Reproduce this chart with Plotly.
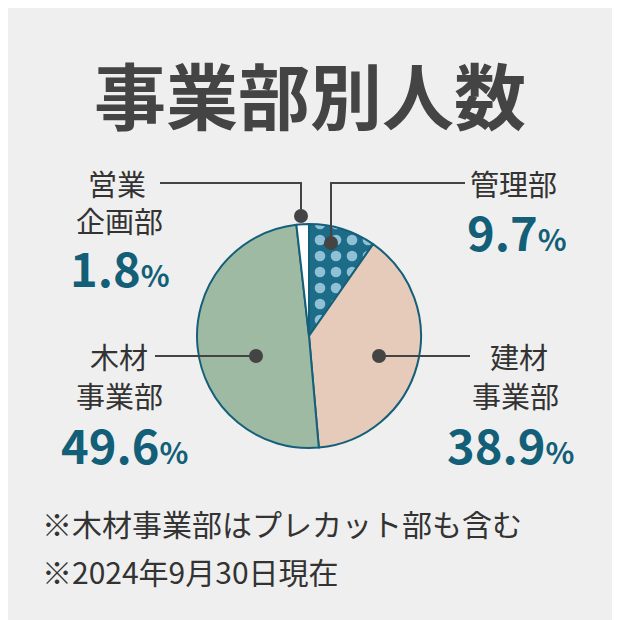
import plotly.graph_objects as go

labels = ["管理部", "建材事業部", "木材事業部", "営業企画部"]
values = [9.7, 38.9, 49.6, 1.8]
colors = ["#1c6c88", "#e6cbbb", "#9fbaa2", "#ffffff"]

W = 620
OFF = 8  # page body margin
def px(x): return (x - OFF) / W
def py(y): return 1 - (y - OFF) / W

fig = go.Figure(go.Pie(
    labels=labels, values=values, sort=False, direction="clockwise", rotation=0,
    textinfo="none", hoverinfo="label+percent",
    marker=dict(colors=colors, line=dict(color="#14607a", width=2),
                pattern=dict(shape=[".", "", "", ""], fgcolor="#8fc0d6",
                             bgcolor="#1c6c88", size=16, solidity=0.35)),
    domain=dict(x=[px(197), px(421)], y=[py(448), py(224)]),
    showlegend=False,
))

# leader lines
line = dict(color="#444", width=2)
shapes = [
    dict(type="path", path=f"M {px(160)} {py(183)} L {px(301)} {py(183)} L {px(301)} {py(216)}"),
    dict(type="path", path=f"M {px(465)} {py(183)} L {px(331)} {py(183)} L {px(331)} {py(243)}"),
    dict(type="path", path=f"M {px(155)} {py(356)} L {px(256)} {py(356)}"),
    dict(type="path", path=f"M {px(470)} {py(356)} L {px(379)} {py(356)}"),
]
for s in shapes:
    s.update(xref="paper", yref="paper", line=line)
for cx, cy in [(301, 216), (331, 243), (256, 356), (379, 356)]:
    shapes.append(dict(type="circle", xref="paper", yref="paper",
                       x0=px(cx - 7), x1=px(cx + 7), y0=py(cy + 7), y1=py(cy - 7),
                       fillcolor="#444", line=dict(width=0)))
fig.update_layout(shapes=shapes)

font = "Noto Sans CJK JP"
def lab(x, y, text, anchor):
    fig.add_annotation(x=px(x), y=py(y), xref="paper", yref="paper", text=text,
                       showarrow=False, xanchor=anchor, yanchor="middle",
                       font=dict(family=font, size=29, color="#333"), align=anchor)
def num(x, y, v, anchor):
    fig.add_annotation(x=px(x), y=py(y), xref="paper", yref="paper",
                       text=f"<b>{v}</b><span style='font-size:30px'><b>%</b></span>",
                       showarrow=False, xanchor=anchor, yanchor="middle",
                       font=dict(family=font, size=47, color="#135f78"))

lab(148, 183, "営業", "right")
lab(165, 220, "企画部", "right")
num(172, 266, values[3], "right")
lab(468, 183, "管理部", "left")
num(465, 230, values[0], "left")
lab(150, 356, "木材", "right")
lab(165, 395, "事業部", "right")
num(190, 443, values[2], "right")
lab(488, 356, "建材", "left")
lab(470, 395, "事業部", "left")
num(445, 443, values[1], "left")

fig.add_annotation(x=px(310), y=py(92), xref="paper", yref="paper", text="<b>事業部別人数</b>",
                   showarrow=False, yanchor="middle",
                   font=dict(family=font, size=72, color="#444"))
for y, t in [(523, "※木材事業部はプレカット部も含む"), (571, "※2024年9月30日現在")]:
    fig.add_annotation(x=px(40), y=py(y), xref="paper", yref="paper", text=t,
                       showarrow=False, xanchor="left", yanchor="middle",
                       font=dict(family=font, size=30, color="#333"))

fig.update_layout(width=620, height=620, margin=dict(l=0, r=0, t=0, b=0),
                  paper_bgcolor="#efefef", plot_bgcolor="#efefef")
fig.write_html("out.html")
